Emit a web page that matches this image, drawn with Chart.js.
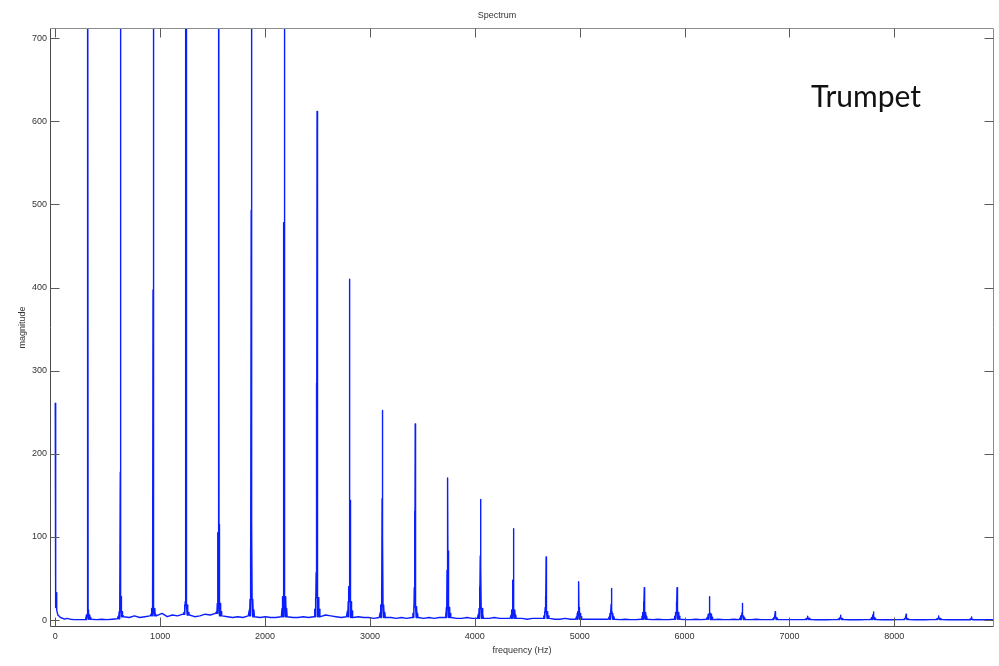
<!DOCTYPE html>
<html>
<head>
<meta charset="utf-8">
<script src="https://cdn.jsdelivr.net/npm/chart.js@4.4.1/dist/chart.umd.min.js"></script>
<style>
html,body{margin:0;padding:0;background:#fff;}
#wrap{width:999px;height:666px;position:relative;}
</style>
</head>
<body>
<div id="wrap"><canvas id="c" width="999" height="666"></canvas></div>
<script>
// ---- data ----
const chartTitle = 'Spectrum';
const xTitle = 'frequency (Hz)';
const yTitle = 'magnitude';
const annotationText = 'Trumpet';
const xTicks = [0, 1000, 2000, 3000, 4000, 5000, 6000, 7000, 8000];
const yTicks = [0, 100, 200, 300, 400, 500, 600, 700];

// DC component
const dcHz  = [0, 2, 4, 6, 9, 14, 25, 50, 90];
const dcMag = [261, 20, 74, 15, 33, 12, 6, 3, 1];

// harmonics of the ~312 Hz fundamental
const harmonicHz = [312, 624, 936, 1248, 1560, 1872, 2184, 2496, 2808, 3120, 3432, 3744, 4056, 4368,
                    4680, 4992, 5304, 5616, 5928, 6240, 6552, 6864, 7176, 7488, 7800, 8112, 8424, 8736];
const peakMag  = [1150, 1300, 1250, 1500, 1450, 1200, 1000, 612, 410, 252, 236, 171, 145, 110,
                  76, 46, 38, 39, 39, 28, 20, 10, 4.5, 5.7, 9.7, 6.9, 5, 3.6];
const side1Mag = [40, 178, 397, 950, 880, 493, 478, 285, 223, 146, 131, 116, 77, 48,
                  29, 23, 19, 22, 21, 12, 9, 6, 3, 3.5, 6, 4, 3, 2];
const side2Mag = [12, 28, 58, 107, 115, 117, 181, 170, 144, 100, 81, 83, 63, 39,
                  20, 15, 12, 14, 14, 8, 5, 4, 2, 2.5, 3.5, 3, 2, 1.5];
const side3Mag = [5, 12, 40, 22, 105, 86, 100, 57, 40, 39, 39, 60, 40, 25,
                  15, 10, 8, 9, 9, 6, 4, 3, 1.5, 2, 2.5, 2, 1.5, 1];
const baseMag  = [6, 10, 14, 18, 20, 25, 28, 27, 22, 18, 16, 15, 14, 12,
                  10, 8, 8, 9, 9, 7, 5, 3, 2, 2, 3, 2, 2, 1];
const shoulderMag = [3, 5, 7, 9, 10, 12, 14, 13, 11, 9, 8, 8, 7, 6,
                     5, 4, 4, 4.5, 4.5, 3.5, 2.5, 1.5, 1, 1, 1.5, 1, 1, 0.5];

// noise floor between peaks (first: DC -> 1st harmonic, last: after the last harmonic)
const gapNoise = [
  [2, 1, 0.5, 0.5, 0.5, 0.5],
  [1, 0.5, 1, 0.5, 1, 1.5],
  [4, 3, 5, 3, 4, 5],
  [5, 8, 4, 6, 5, 7],
  [6, 4, 5, 7, 6, 8],
  [5, 4, 3, 4, 3, 5],
  [4, 3, 4, 3, 3, 4],
  [4, 3, 3, 4, 3, 4],
  [4, 6, 5, 4, 3, 4],
  [3, 4, 3, 3, 2, 3],
  [3, 3, 2, 3, 2, 3],
  [3, 2, 3, 2, 3, 3],
  [3, 2, 2, 3, 2, 2],
  [2, 2, 3, 2, 2, 2],
  [2, 2, 1, 2, 2, 2],
  [2, 1, 1, 2, 1, 1],
  [1, 1, 1, 1, 1, 1],
  [1, 0.5, 1, 0.5, 0.5, 1],
  [1, 0.5, 1, 0.5, 0.5, 1],
  [1, 0.5, 0.5, 1, 0.5, 1],
  [0.5, 1, 0.5, 0.5, 1, 0.5],
  [0.5, 0.5, 1, 0.5, 0.5, 0.5],
  [0.5, 0.5, 0.5, 0.5, 0.5, 0.5],
  [0.5, 0.3, 0.5, 0.3, 0.5, 0.5],
  [0.5, 0.3, 0.5, 0.3, 0.5, 0.5],
  [0.5, 0.3, 0.5, 0.3, 0.5, 0.5],
  [0.5, 0.3, 0.5, 0.3, 0.5, 0.5],
  [0.5, 0.3, 0.3, 0.3, 0.3, 0.3],
  [0.3, 0.3, 0.3, 0.3, 0.3, 0.3]
];
const xMin = -50, xMax = 8950;
const yMin = -8.4, yMax = 712.3;

// ---- build the polyline ----
const pts = [];
dcHz.forEach((h, i) => pts.push({x: h, y: dcMag[i]}));
function addGap(a, b, vals) {
  const n = vals.length;
  vals.forEach((v, j) => pts.push({x: a + (b - a) * j / (n - 1), y: v}));
}
addGap(dcHz[dcHz.length - 1] + 20, harmonicHz[0] - 32, gapNoise[0]);
harmonicHz.forEach((f, i) => {
  const b = baseMag[i], sh = shoulderMag[i];
  const loL = gapNoise[i][gapNoise[i].length - 1];
  const loR = gapNoise[i + 1][0];
  pts.push({x: f - 28, y: loL});
  pts.push({x: f - 22, y: sh});
  pts.push({x: f - 19, y: loL});
  pts.push({x: f - 15, y: b});
  pts.push({x: f - 12, y: loL});
  pts.push({x: f - 9, y: side3Mag[i]});
  pts.push({x: f - 7, y: b});
  pts.push({x: f - 4, y: side1Mag[i]});
  pts.push({x: f - 3, y: b});
  pts.push({x: f, y: peakMag[i]});
  pts.push({x: f + 1.5, y: b});
  pts.push({x: f + 3, y: side2Mag[i]});
  pts.push({x: f + 5, y: b});
  pts.push({x: f + 9, y: loR});
  pts.push({x: f + 13, y: b});
  pts.push({x: f + 17, y: loR});
  pts.push({x: f + 22, y: sh});
  pts.push({x: f + 27, y: loR});
  const next = i + 1 < harmonicHz.length ? harmonicHz[i + 1] - 32 : xMax;
  addGap(f + 32, next, gapNoise[i + 1]);
});

const FONT = '"Liberation Sans", Arial, Helvetica, sans-serif';

const framePlugin = {
  id: 'frame',
  afterDatasetsDraw(chart) {
    const {ctx, chartArea: a, scales: {x, y}} = chart;
    const L = Math.round(a.left) + 0.5, R = Math.round(a.right) - 0.5;
    const T = Math.round(a.top) + 0.5, B = Math.round(a.bottom) - 0.5;
    ctx.save();
    ctx.lineWidth = 1;
    ctx.strokeStyle = '#8c8c8c';
    ctx.beginPath();
    ctx.moveTo(L, T); ctx.lineTo(R, T); ctx.lineTo(R, B);
    ctx.stroke();
    ctx.strokeStyle = '#4a4a4a';
    ctx.beginPath();
    ctx.moveTo(L, T); ctx.lineTo(L, B); ctx.lineTo(R, B);
    ctx.stroke();
    const tl = 9;
    ctx.strokeStyle = '#5a5a5a';
    ctx.beginPath();
    x.ticks.forEach(t => {
      const px = Math.round(x.getPixelForValue(t.value)) + 0.5;
      ctx.moveTo(px, B); ctx.lineTo(px, B - tl);
      ctx.moveTo(px, T); ctx.lineTo(px, T + tl);
    });
    y.ticks.forEach(t => {
      const py = Math.round(y.getPixelForValue(t.value)) + 0.5;
      ctx.moveTo(L, py); ctx.lineTo(L + tl, py);
      ctx.moveTo(R, py); ctx.lineTo(R - tl, py);
    });
    ctx.stroke();
    ctx.fillStyle = '#111';
    ctx.font = '30px Lato, "Open Sans", sans-serif';
    ctx.textAlign = 'left';
    ctx.textBaseline = 'alphabetic';
    ctx.fillText(annotationText, 811, 107);
    ctx.restore();
  }
};

new Chart(document.getElementById('c'), {
  type: 'scatter',
  data: {
    datasets: [{
      label: 'Trumpet',
      data: pts,
      showLine: true,
      borderColor: '#0a1eff',
      backgroundColor: '#0a1eff',
      borderWidth: 1.4,
      borderJoinStyle: 'round',
      borderCapStyle: 'butt',
      pointRadius: 0,
      pointHoverRadius: 0,
      tension: 0,
      fill: false
    }]
  },
  options: {
    responsive: false,
    animation: false,
    events: [],
    layout: {padding: {left: 0, right: 5, top: 0, bottom: 0}},
    plugins: {
      legend: {display: false},
      tooltip: {enabled: false},
      title: {
        display: true,
        text: chartTitle,
        color: '#333',
        font: {family: FONT, size: 9, weight: 'normal', lineHeight: 1.2},
        padding: {top: 10.6, bottom: 6.6}
      }
    },
    scales: {
      x: {
        type: 'linear',
        position: 'bottom',
        min: xMin, max: xMax,
        afterBuildTicks: s => { s.ticks = xTicks.map(v => ({value: v})); },
        afterFit: s => { s.height = 39; },
        grid: {display: false, drawTicks: false},
        border: {display: false},
        ticks: {
          color: '#333', padding: 4, maxRotation: 0, autoSkip: false,
          font: {family: FONT, size: 9, lineHeight: 1.2},
          callback: v => String(v)
        },
        title: {
          display: true, text: xTitle, color: '#333',
          font: {family: FONT, size: 9, lineHeight: 1.2},
          padding: {top: 0, bottom: 9.6}
        }
      },
      y: {
        type: 'linear',
        position: 'left',
        min: yMin, max: yMax,
        afterBuildTicks: s => { s.ticks = yTicks.map(v => ({value: v})); },
        afterFit: s => { s.width = 50; },
        grid: {display: false, drawTicks: false},
        border: {display: false},
        ticks: {
          color: '#333', padding: 3, autoSkip: false,
          font: {family: FONT, size: 9, lineHeight: 1.2},
          callback: v => String(v)
        },
        title: {
          display: true, text: yTitle, color: '#333',
          font: {family: FONT, size: 9, lineHeight: 1.2},
          padding: {top: 17.1, bottom: 0}
        }
      }
    }
  },
  plugins: [framePlugin]
});
</script>
</body>
</html>
